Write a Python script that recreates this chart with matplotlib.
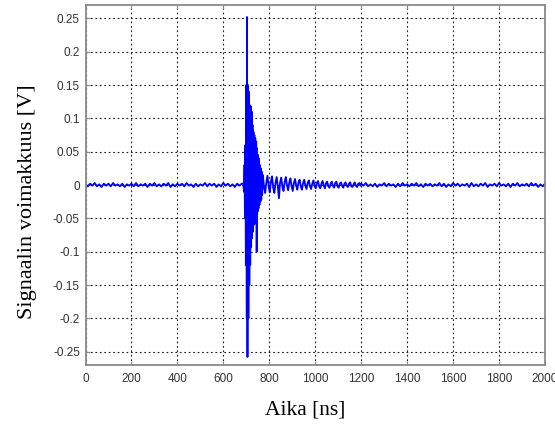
import numpy as np
import matplotlib
matplotlib.use('Agg')
import matplotlib.pyplot as plt

# ========================== DATA ==========================
# baseline noise before the pulse, mV, every 10 ns from 0 ns
pre_mv = [1, -2, 2, -1, 3, -2, 1, -3, 2, -1,
          2, -2, 3, -1, 1, -2, 2, -3, 1, -1,
          2, -2, 3, -2, 1, -1, 2, -3, 2, -1,
          3, -2, 1, -2, 2, -1, 3, -3, 1, -2,
          2, -1, 2, -2, 3, -1, 1, -3, 2, -2,
          1, -1, 3, -2, 2, -1, 2, -3, 1, -2,
          3, -1, 2, -2, 1, -3, 2, -1, 2]

# main pulse, ns / V
pulse_t = [686, 690, 692, 694, 696, 698, 700, 702, 703, 705,
           707, 709, 711, 713, 715, 717, 719, 721, 723, 725,
           727, 729, 731, 733, 735, 737, 739, 741, 743, 745,
           747, 749, 751, 753, 755, 757, 759, 761, 763, 765,
           767, 769]
pulse_v = [0.002, -0.01, 0.03, -0.05, 0.06, -0.12, 0.15, -0.2, 0.252, -0.258,
           0.15, -0.2, 0.14, -0.15, 0.12, -0.12, 0.118, -0.093, 0.11, -0.08,
           0.09, -0.07, 0.08, -0.06, 0.075, -0.058, 0.07, -0.05, 0.065, -0.1,
           0.055, -0.04, 0.045, -0.035, 0.04, -0.03, 0.03, -0.025, 0.025, -0.022,
           0.02, -0.015]

# ringing after the pulse, mV, every 5 ns from 772 ns
ring_mv = [15, -3, -12, 4, 14, -2, -11, 5, 13, -4,
           -12, 3, 12, -2, -20, 4, 11, -3, -9, 5,
           12, -1, -8, 4, 10, -2, -9, 3, 9, -1,
           -7, 4, 8, -2, -7, 3, 8, -1, -6, 3,
           7, -2, -6, 2, 7, -1, -5, 3, 6, -2,
           -5, 2, 6, -1, -5, 3, 5, -2, -4, 2,
           5, -1, -4, 3, 5, -2, -4, 2, 4, -1,
           -4, 2, 4, -1, -3, 2, 4, -2, -3, 1,
           4, -1, -3, 2, 3, -1]

# tail noise, mV, every 10 ns from 1200 ns
post_mv = [2, -1, 3, -2, 1, -2, 2, -3, 1, -1,
           3, -2, 2, -1, 1, -3, 2, -2, 3, -1,
           1, -2, 2, -1, 3, -2, 1, -3, 2, -1,
           2, -2, 1, -1, 3, -2, 2, -3, 1, -2,
           3, -1, 2, -2, 1, -1, 2, -3, 3, -2,
           1, -2, 2, -1, 3, -3, 1, -1, 2, -2,
           3, -1, 1, -2, 2, -3, 2, -1, 3, -2,
           1, -1, 2, -2, 3, -1, 2, -3, 1, -2,
           2]

x_ticks = np.arange(0, 2001, 200)
y_ticks = [-0.25, -0.2, -0.15, -0.1, -0.05, 0, 0.05, 0.1, 0.15, 0.2, 0.25]
y_ticklabels = ['-0.25', '-0.2', '-0.15', '-0.1', '-0.05', '0',
                '0.05', '0.1', '0.15', '0.2', '0.25']

# ========================== ASSEMBLE SIGNAL ==========================
t = np.concatenate([10 * np.arange(len(pre_mv)),
                    np.array(pulse_t),
                    772 + 5 * np.arange(len(ring_mv)),
                    1200 + 10 * np.arange(len(post_mv))])
v = np.concatenate([np.array(pre_mv) / 1000.0,
                    np.array(pulse_v),
                    np.array(ring_mv) / 1000.0,
                    np.array(post_mv) / 1000.0])

# ========================== PLOT ==========================
fig = plt.figure(figsize=(5.55, 4.26), dpi=100)
ax = fig.add_axes([85.5 / 555, 1 - 365 / 426, 459.5 / 555, 360 / 426])

ax.plot(t, v, color='#0000ff', linewidth=1.3)

ax.set_xlim(0, 2000)
ax.set_ylim(-0.27, 0.27)
ax.set_xticks(x_ticks)
ax.set_yticks(y_ticks)
ax.set_yticklabels(y_ticklabels)

ax.grid(True, color='#222222', linestyle=(0, (1.6, 2.4)), linewidth=0.8)
for s in ax.spines.values():
    s.set_color('#8a8a8a')
    s.set_linewidth(1.3)
ax.tick_params(direction='in', length=3, width=0.8, color='#8a8a8a',
               top=True, right=True, labelsize=8.5, labelcolor='#333333')
ax.tick_params(axis='x', pad=6)
ax.tick_params(axis='y', pad=4)
for lab in ax.get_xticklabels() + ax.get_yticklabels():
    lab.set_family('Liberation Sans')

ax.set_xlabel('Aika [ns]', family='Liberation Serif', fontsize=15.5, va='center')
ax.xaxis.set_label_coords(0.478, -0.125)
ax.set_ylabel('Signaalin voimakkuus [V]', family='Liberation Serif', fontsize=16, va='center')
ax.yaxis.set_label_coords(-0.127, 0.453)

plt.savefig('out.png', dpi=100)
